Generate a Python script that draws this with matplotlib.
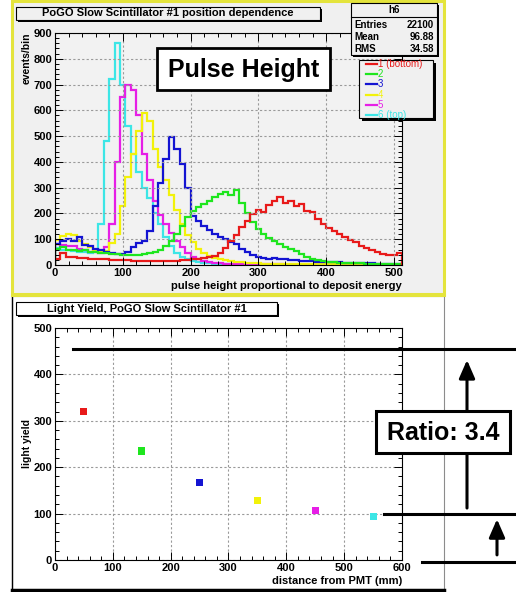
import matplotlib
matplotlib.use("Agg")
import matplotlib.pyplot as plt
import matplotlib.patches as patches
import matplotlib.transforms as mtransforms
from matplotlib.lines import Line2D
from matplotlib.ticker import MultipleLocator
import numpy as np

plt.rcParams["font.family"] = ["Liberation Sans", "DejaVu Sans"]

# Pulshöhen-Histogramme, Kanalbreite 8 (0 ... 512)
bin_width = 8
kanal_labels = ["1 (bottom)", "2", "3", "4", "5", "6 (top)"]
kanal_farben = ["#e81a1a", "#1ee61e", "#1414d2", "#f2f20a", "#e61ee6", "#3ce6e6"]

h1 = [25, 48, 32, 30, 27, 29, 24, 25, 22, 23, 20, 21, 18, 19, 16, 17,
      15, 16, 14, 15, 16, 15, 17, 19, 20, 23, 24, 27, 31, 36, 48, 66,
      92, 118, 148, 172, 196, 212, 206, 232, 248, 262, 240, 250, 228, 236, 210, 205,
      178, 160, 145, 132, 120, 108, 97, 88, 74, 66, 58, 50, 44, 40, 38, 46]
h2 = [62, 68, 58, 60, 55, 57, 50, 52, 46, 48, 43, 44, 40, 38, 40, 37,
      42, 45, 50, 58, 72, 92, 120, 150, 185, 210, 225, 238, 250, 262, 275, 285,
      270, 290, 240, 200, 165, 140, 120, 105, 95, 82, 70, 62, 55, 42, 30, 22,
      18, 16, 12, 10, 9, 8, 7, 6, 6, 5, 5, 5, 4, 4, 4, 3]
h3 = [80, 95, 102, 92, 108, 78, 72, 62, 58, 52, 48, 42, 44, 52, 68, 85,
      95, 130, 230, 320, 410, 495, 450, 390, 300, 190, 170, 150, 135, 120, 110, 100,
      90, 80, 62, 50, 40, 32, 28, 22, 28, 22, 25, 20, 18, 16, 17, 14,
      13, 12, 11, 10, 10, 9, 8, 8, 7, 6, 6, 5, 5, 4, 4, 4]
h4 = [98, 112, 122, 115, 95, 80, 68, 58, 52, 55, 85, 120, 230, 340, 430, 520,
      590, 560, 450, 380, 330, 270, 215, 160, 115, 90, 62, 45, 36, 28, 22, 18,
      15, 12, 10, 8, 7, 6, 5, 5, 4, 4, 3, 3, 3, 3, 3, 2,
      2, 2, 2, 2, 2, 2, 2, 1, 1, 1, 1, 1, 1, 1, 1, 1]
h5 = [82, 78, 72, 75, 62, 58, 52, 50, 45, 70, 160, 400, 650, 700, 680, 580,
      430, 330, 250, 195, 160, 125, 95, 70, 48, 32, 22, 15, 10, 8, 6, 5,
      4, 3, 3, 3, 2, 2, 2, 2, 2, 2, 1, 1, 1, 1, 1, 1,
      1, 1, 1, 1, 1, 1, 1, 1, 1, 1, 1, 1, 1, 1, 1, 1]
h6 = [65, 58, 60, 55, 52, 50, 48, 55, 160, 480, 720, 860, 700, 540, 430, 360,
      300, 260, 200, 160, 110, 72, 48, 32, 22, 16, 12, 9, 7, 5, 4, 3,
      3, 2, 2, 2, 2, 1, 1, 1, 1, 1, 1, 1, 1, 1, 1, 1,
      1, 1, 1, 1, 1, 1, 1, 1, 1, 1, 0, 0, 0, 0, 0, 0]
histos = [h1, h2, h3, h4, h5, h6]

stat_name = "h6"
stat_zeilen = [("Entries", "22100"), ("Mean", "96.88"), ("RMS", "34.58")]

# Lichtausbeute gegen Abstand zum PMT
abstand_mm = [50, 150, 250, 350, 450, 550]
lichtausbeute = [320, 235, 168, 128, 107, 94]
ratio_text = "Ratio: 3.4"

W, H = 516, 592
fig = plt.figure(figsize=(W / 100, H / 100), dpi=100, facecolor="white")
# Pixel-Koordinaten (Ursprung oben links)
px = mtransforms.Affine2D().scale(1 / W, -1 / H).translate(0, 1) + fig.transFigure


def pix_axes(left, top, right, bottom):
    return fig.add_axes([left / W, 1 - bottom / H, (right - left) / W, (bottom - top) / H])


def kasten(x0, y0, x1, y1, fc="white", lw=0.8, schatten=0, z=3):
    """Rechteck in Pixelkoordinaten, optional mit ROOT-Schatten"""
    if schatten:
        fig.add_artist(patches.Rectangle((x0 + schatten, y0 + schatten), x1 - x0, y1 - y0,
                                         transform=px, fc="black", ec="none", zorder=z))
    fig.add_artist(patches.Rectangle((x0, y0), x1 - x0, y1 - y0, transform=px,
                                     fc=fc, ec="black", lw=lw, zorder=z))


def text(x, y, s, **kw):
    kw.setdefault("zorder", 6)
    fig.text(x, y, s, transform=px, **kw)


def root_achsen(ax, xmax, ymax, xtick, ytick):
    ax.set_xlim(0, xmax)
    ax.set_ylim(0, ymax)
    xt = np.arange(0, xmax + 1, xtick)
    yt = np.arange(0, ymax + 1, ytick)
    ax.set_xticks(xt, labels=[str(int(v)) for v in xt], fontweight="bold", fontsize=8)
    ax.set_yticks(yt, labels=[str(int(v)) for v in yt], fontweight="bold", fontsize=8)
    ax.xaxis.set_minor_locator(MultipleLocator(xtick / 5))
    ax.yaxis.set_minor_locator(MultipleLocator(ytick / 5))
    ax.tick_params(which="both", direction="in", top=True, right=True, width=0.7)
    ax.tick_params(which="major", length=6, pad=2)
    ax.tick_params(which="minor", length=3)
    ax.grid(True, which="major", color="#9a9a9a", lw=0.8, ls=(0, (2, 2)))
    for sp in ax.spines.values():
        sp.set_linewidth(0.8)


# Hintergrund der beiden Panels
fig.add_artist(patches.Rectangle((12, 1), 432, 293, transform=px, fc="#f0f0f0",
                                 ec="#e4e43c", lw=2.2, zorder=-5))
fig.add_artist(patches.Rectangle((12, 296), 432, 294, transform=px, fc="white",
                                 ec="#8c8c8c", lw=0.8, zorder=-5))
fig.add_artist(Line2D([12, 12], [296, 590], transform=px, color="black", lw=1, zorder=-4))
fig.add_artist(Line2D([12, 444], [590, 590], transform=px, color="black", lw=2.5, zorder=-4))
fig.add_artist(Line2D([12, 444], [295, 295], transform=px, color="#e4e43c", lw=2.2, zorder=-4))

# Oben: Pulshöhenspektren
ax1 = pix_axes(55, 33, 402, 265)
ax1.set_facecolor("#f2f2f2")
kanten = np.arange(0, 513, bin_width)
for werte, farbe in reversed(list(zip(histos, kanal_farben))):
    ax1.stairs(werte, kanten, color=farbe, lw=1.6)
root_achsen(ax1, 512, 900, 100, 100)
ax1.set_xlabel("pulse height proportional to deposit energy", loc="right",
               fontweight="bold", fontsize=8, labelpad=2)
ax1.set_ylabel("events/bin", loc="top", fontweight="bold", fontsize=7.5, labelpad=1)

kasten(16, 7, 320, 20, fc="#f0f0f0", schatten=1.5)
text(168, 13.5, "PoGO Slow Scintillator #1 position dependence", ha="center", va="center",
     fontsize=8, fontweight="bold")

# Statistikbox
kasten(351, 3, 437, 55, fc="#f0f0f0", schatten=2)
fig.add_artist(Line2D([351, 437], [17, 17], transform=px, color="black", lw=0.8, zorder=4))
text(394, 10, stat_name, ha="center", va="center", fontsize=7, fontweight="bold")
for i, (name, wert) in enumerate(stat_zeilen):
    y = 25 + i * 12
    text(354, y, name, ha="left", va="center", fontsize=7, fontweight="bold")
    text(434, y, wert, ha="right", va="center", fontsize=7, fontweight="bold")

# Legende
kasten(359, 60, 433, 118, fc="#f0f0f0", schatten=3)
for i, (lab, farbe) in enumerate(zip(kanal_labels, kanal_farben)):
    y = 64 + i * 10.2
    fig.add_artist(Line2D([366, 377], [y, y], transform=px, color=farbe, lw=1.6, zorder=6))
    text(378, y, lab, ha="left", va="center", fontsize=7, color=farbe)

kasten(157, 48, 330, 90, fc="white", lw=2)
text(243.5, 69.5, "Pulse Height", ha="center", va="center", fontsize=18, fontweight="bold")

# Unten: Lichtausbeute
ax2 = pix_axes(55, 328, 402, 560)
ax2.set_facecolor("white")
ax2.scatter(abstand_mm, lichtausbeute, marker="s", s=26, c=kanal_farben, linewidths=0,
            zorder=3)
root_achsen(ax2, 600, 500, 100, 100)
ax2.set_xlabel("distance from PMT (mm)", loc="right", fontweight="bold", fontsize=8,
               labelpad=2)
ax2.set_ylabel("light yield", fontweight="bold", fontsize=7.5, labelpad=1)

kasten(16, 302, 277, 315, fc="white", schatten=1.5)
text(146.5, 308.5, "Light Yield, PoGO Slow Scintillator #1", ha="center", va="center",
     fontsize=8, fontweight="bold")

# Hilfslinien und Pfeile für das Verhältnis (x in Pixeln, y in Daten)
misch = mtransforms.blended_transform_factory(px, ax2.transData)
for x0, y in [(73, 455), (384, 100), (422, -4)]:
    fig.add_artist(Line2D([x0, 516], [y, y], transform=misch, color="black", lw=2.2,
                          zorder=5))
for x, y0, y1 in [(467, 112, 431), (497, 11, 88)]:
    fig.add_artist(patches.FancyArrowPatch((x, y0), (x, y1), transform=misch,
                                           arrowstyle="-|>,head_length=0.55,head_width=0.24",
                                           mutation_scale=20, lw=2.2, color="black",
                                           shrinkA=0, shrinkB=0, zorder=5))

kasten(376, 411, 510, 453, fc="white", lw=2.2, z=7)
text(443, 432.5, ratio_text, ha="center", va="center", fontsize=18, fontweight="bold",
     zorder=8)

fig.savefig("out.png", dpi=100)
